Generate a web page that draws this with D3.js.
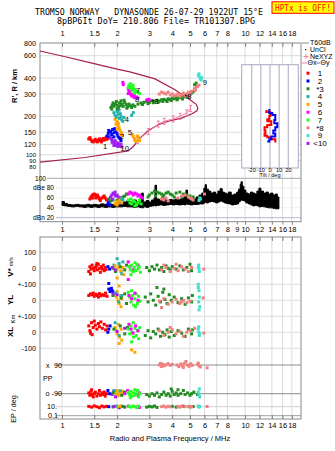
<!DOCTYPE html>
<html>
<head>
<meta charset="utf-8">
<script src="https://cdn.jsdelivr.net/npm/d3@7"></script>
<style>
body { margin: 0; background: #fff; }
svg text { font-family: "Liberation Sans", Arial, sans-serif; fill: #000; }
.mono { font-family: "DejaVu Sans Mono", monospace; white-space: pre; }
</style>
</head>
<body>
<div id="chart"></div>
<script>
// ---- data ----
const groupColors = ["#ff0000", "#0000ff", "#228b22", "#20b2aa", "#ffa500",
  "#ff00ff", "#22ff22", "#f08080", "#40e0d0", "#a020f0"];
const groupLabels = ["1", "2", "*3", "4", "5", "6", "7", "*8", "9", "<10"];

const topTicks = [1, 1.5, 2, 3, 4, 5, 6, 7, 8, 10, 12, 14, 16, 18];
const midTicks = [1, 1.5, 2, 3, 4, 5, 6, 7, 8, 9, 10, 12, 14, 16, 18];
const rangeTicks = [80, 90, 100, 120, 150, 200, 300, 400, 600, 800];

// model profile (MHz, km)
const profile = [[0.758, 653], [1.0, 597], [1.42, 529], [2.0, 471], [2.35, 447], [3.22, 394],
  [4.14, 324], [5.0, 270], [5.39, 250], [5.52, 233], [5.46, 221], [5.13, 210], [4.5, 194],
  [3.8, 183], [3.36, 172], [2.96, 155], [2.67, 135], [2.45, 116], [2.3, 107], [1.335, 95], [0.758, 87.5]];
// NeXYZ points
const nexyz = [[2.59, 129], [2.96, 152], [3.36, 174], [3.62, 183], [4.05, 191], [4.41, 200], [4.8, 213], [5.04, 231]];

// echoes: [group, MHz, km]
const rangePts = [
  [1,1.40,133],[1,1.42,136],[1,1.44,131],[1,1.46,127],[1,1.48,126],[1,1.50,129],[1,1.52,132],[1,1.54,128],
  [1,1.56,126],[1,1.58,130],[1,1.60,133],[1,1.62,129],[1,1.64,126],[1,1.66,131],[1,1.68,134],[1,1.70,130],
  [1,1.72,133],[1,1.74,136],[1,1.76,132],[1,1.78,135],
  [2,1.76,140],[2,1.79,147],[2,1.82,138],[2,1.84,152],[2,1.87,144],[2,1.89,158],[2,1.92,149],[2,1.94,160],
  [2,1.97,152],[2,2.00,146],[2,2.02,140],[2,2.05,136],[2,2.08,133],[2,1.92,138],[2,1.86,134],[2,2.10,129],[2,1.80,155],
  [10,1.84,136],[10,1.87,131],[10,1.90,127],[10,1.93,123],[10,1.96,120],[10,1.99,118],[10,2.02,116],[10,2.05,119],
  [10,2.08,117],[10,2.12,115],[10,1.95,129],[10,2.00,124],[10,2.04,122],[10,1.88,125],[10,1.92,118],[10,2.10,121],
  [5,1.95,190],[5,1.98,198],[5,2.00,182],[5,1.97,174],[5,2.02,168],[5,2.05,163],[5,2.00,158],[5,2.07,156],
  [5,2.10,150],[5,2.12,146],[5,2.14,141],[5,2.08,144],[5,2.03,176],[5,2.42,144],[5,2.45,139],[5,2.48,134],
  [5,2.50,129],[5,2.55,127],[5,2.60,131],[5,2.62,137],[5,2.65,129],[5,2.58,140],
  [4,1.92,214],[4,1.95,204],[4,1.98,198],[4,2.00,219],[4,2.03,208],[4,2.06,193],[4,2.10,199],[4,2.12,188],
  [4,2.15,183],[4,2.05,224],[4,2.08,210],[4,2.18,196],[4,2.40,204],[4,2.45,214],
  [3,1.85,235],[3,1.88,245],[3,1.90,255],[3,1.92,240],[3,1.95,250],[3,1.98,262],[3,2.00,245],[3,2.03,235],
  [3,2.06,255],[3,2.10,265],[3,2.13,250],[3,2.16,240],[3,2.20,258],[3,2.24,248],[3,2.28,238],[3,2.32,250],
  [3,2.36,242],[3,2.40,235],[3,1.87,228],[3,2.00,230],[3,2.08,242],[3,2.18,268],[3,2.26,232],[3,2.44,246],[3,2.50,240],
  [3,2.60,250],[3,2.70,255],[3,2.80,258],[3,2.90,262],[3,3.00,258],[3,3.10,265],[3,3.20,262],[3,3.30,268],
  [3,3.40,264],[3,3.50,270],[3,3.60,272],[3,3.70,268],[3,3.80,275],[3,3.90,271],[3,4.00,278],[3,4.10,275],
  [3,4.20,280],[3,4.30,277],[3,4.40,284],[3,4.50,281],[3,4.60,288],[3,4.70,285],[3,4.80,292],[3,4.90,295],
  [3,5.00,300],[3,5.10,306],[3,5.20,312],[3,5.30,355],[3,5.40,365],[3,2.75,248],[3,2.95,252],[3,3.15,256],
  [3,3.35,258],[3,3.55,262],[3,3.75,262],[3,3.95,266],[3,4.25,270],[3,4.55,274],[3,4.85,282],
  [6,2.30,330],[6,2.32,315],[6,2.35,305],[6,2.38,298],[6,2.40,290],[6,2.42,296],[6,2.45,285],[6,2.50,280],
  [6,2.55,284],[6,2.60,279],[6,2.35,322],[6,2.30,302],[6,2.15,370],[6,2.16,355],[6,2.90,268],[6,2.95,272],
  [6,3.00,270],[6,2.48,292],
  [7,2.32,350],[7,2.35,340],[7,2.38,330],[7,2.40,345],[7,2.42,320],[7,2.45,335],[7,2.50,325],[7,2.55,315],
  [7,2.60,310],[7,2.65,302],[7,2.36,362],[7,2.48,306],[7,2.44,352],[7,2.30,338],
  [8,3.40,300],[8,3.50,310],[8,3.60,305],[8,3.70,300],[8,3.80,310],[8,3.90,295],[8,4.00,300],[8,4.10,290],
  [8,4.20,295],[8,4.30,300],[8,4.40,288],[8,4.50,295],[8,4.60,305],[8,4.70,290],[8,4.80,300],[8,4.90,310],
  [8,5.00,298],[8,5.10,315],[8,5.30,330],[8,5.40,338],[8,5.50,345],[8,5.60,352],[8,5.35,320],[8,4.95,285],
  [9,5.55,420],[9,5.60,432],[9,5.65,410],[9,5.70,396],[9,5.75,386],[9,5.80,402]
];
const rangeLabels = [["1",1.72,117],["2",2.13,139],["10",2.2,113],["5",2.35,150],["4",2.26,190],
  ["*3",3.22,264],["7",2.6,320],["8",2.57,271],["*8",4.87,288],["9",6.03,368]];

// tilt inset: [deg, km]
const tiltX = [[-4,225],[0.3,217],[-0.8,201],[-3,190],[1.4,183],[-3,171],[-6,164],[-5,155],[-6,147],[-3,141],[1.4,137],[5.8,132],[7,127]];
const tiltY = [[-0.8,229],[2.5,213],[5.8,205],[4.7,187],[8,177],[5.8,164],[3.6,155],[5.8,147],[1.4,139],[-0.8,132],[-3,127]];

// noise band: [MHz, low dB, high dB]
const noise = [[1.00,45,53],[1.03,44,49],[1.07,43,47],[1.12,42,46],[1.18,43,47],[1.24,42,46],[1.30,41,46],
  [1.36,42,47],[1.42,41,46],[1.48,42,47],[1.55,41,46],[1.62,42,48],[1.70,41,47],[1.78,42,48],[1.86,41,47],
  [1.95,42,49],[2.05,42,50],[2.15,43,52],[2.25,42,54],[2.35,42,52],[2.45,41,56],[2.55,42,53],[2.65,41,58],
  [2.72,40,70],[2.78,42,52],[2.88,41,55],[2.98,43,52],[3.08,44,56],[3.18,45,60],[3.22,44,86],[3.28,45,58],
  [3.4,46,56],[3.55,45,58],[3.7,46,55],[3.85,47,57],[4.0,46,56],[4.15,47,58],[4.3,46,57],[4.5,47,60],
  [4.65,46,64],[4.75,48,76],[4.85,47,62],[5.0,46,60],[5.2,47,58],[5.4,47,62],[5.6,48,66],[5.8,48,70],
  [5.95,50,80],[6.05,52,87],[6.15,50,78],[6.3,52,74],[6.5,53,70],[6.7,52,72],[6.9,50,68],[7.1,52,74],
  [7.3,54,79],[7.5,52,72],[7.7,50,70],[7.9,49,68],[8.1,48,72],[8.4,46,66],[8.7,47,68],[9.0,48,72],
  [9.2,52,78],[9.4,55,88],[9.5,56,93],[9.65,55,84],[9.85,54,76],[10.1,50,70],[10.4,48,68],[10.7,46,72],
  [11.0,44,70],[11.3,45,68],[11.6,44,74],[11.9,42,80],[12.2,43,74],[12.6,42,70],[13.0,41,72],[13.4,40,68],
  [13.8,40,70],[14.2,39,66],[14.6,38,68],[15.0,38,62],[15.3,38,56]];

// echo amplitude: [group, MHz, dB]
const ampPts = [
  [1,1.42,58],[1,1.44,62],[1,1.46,65],[1,1.48,67],[1,1.50,68],[1,1.52,66],[1,1.54,64],[1,1.56,66],[1,1.58,62],
  [1,1.60,58],[1,1.62,55],[1,1.65,60],[1,1.68,62],[1,1.70,64],[1,1.72,60],[1,1.75,56],[1,1.47,60],[1,1.53,60],
  [2,1.78,48],[2,1.80,52],[2,1.82,46],[2,2.02,50],[2,2.05,48],
  [3,1.80,58],[3,1.85,54],[3,1.90,56],[3,2.00,55],[3,2.10,60],[3,2.15,62],[3,2.20,64],[3,2.25,68],
  [10,1.84,62],[10,1.87,66],[10,1.90,70],[10,1.93,68],[10,1.96,64],[10,2.00,66],[10,2.03,62],[10,2.06,60],[10,1.88,58],[10,1.95,72],
  [5,1.95,48],[5,1.98,52],[5,2.00,46],[5,2.03,50],[5,2.06,55],[5,2.10,58],[5,2.12,50],
  [4,2.12,58],[4,2.15,56],
  [6,2.30,68],[6,2.35,72],[6,2.40,70],[6,2.45,66],[6,2.50,70],[6,2.55,68],[6,2.60,64],[6,2.65,66],[6,2.70,62],[6,2.75,60],
  [7,2.30,56],[7,2.35,50],[7,2.40,48],[7,2.45,54],[7,2.50,52],[7,2.55,46],[7,2.60,50],[7,2.65,55],[7,2.38,58],[7,2.50,44],[7,2.70,48],
  [3,2.95,62],[3,3.00,66],[3,3.10,70],[3,3.20,74],[3,3.30,72],[3,3.40,70],[3,3.50,68],[3,3.60,66],[3,3.70,70],
  [3,3.80,72],[3,3.90,68],[3,4.00,66],[3,4.20,70],[3,4.40,72],[3,4.60,68],[3,4.80,66],[3,5.00,64],[3,5.20,62],
  [3,3.25,64],[3,3.55,62],[3,4.10,62],[3,4.50,62],
  [8,3.50,58],[8,3.60,56],[8,3.70,60],[8,3.80,54],[8,4.30,60],[8,4.50,64],[8,4.70,66],[8,4.90,62],[8,5.00,60],
  [8,5.10,58],[8,5.20,56],[8,6.00,68],
  [9,5.60,55],[9,5.65,60],[9,5.70,58]
];

// V* (m/s): [group, MHz, value]
const vstarPts = [
  [1,1.40,-20],[1,1.42,10],[1,1.44,-5],[1,1.46,20],[1,1.48,0],[1,1.50,-15],[1,1.52,5],[1,1.54,15],[1,1.56,-10],
  [1,1.58,25],[1,1.60,0],[1,1.62,-25],[1,1.64,10],[1,1.66,-5],[1,1.68,20],[1,1.70,-15],[1,1.72,5],[1,1.74,-8],
  [1,1.43,-35],[1,1.55,30],
  [2,1.78,10],[2,1.82,-5],[2,1.80,-95],
  [4,1.92,20],[4,1.98,-10],[4,2.05,30],[4,2.10,-20],[4,2.15,40],[4,2.00,60],[4,2.12,-35],
  [5,1.95,15],[5,2.00,-5],[5,2.05,10],[5,2.10,-15],[5,2.15,5],[5,2.00,-60],[5,2.05,-110],[5,2.18,-40],
  [3,1.90,0],[3,1.96,-20],[3,2.08,10],[3,2.20,-10],[3,2.25,20],
  [10,1.88,5],[10,1.95,-10],
  [6,2.30,40],[6,2.35,10],[6,2.45,-10],[6,2.60,20],[6,2.30,-70],
  [7,2.32,10],[7,2.36,-10],[7,2.40,20],[7,2.44,-20],[7,2.48,5],[7,2.52,-15],[7,2.56,25],[7,2.60,-5],
  [7,2.64,10],[7,2.68,-25],[7,2.38,-40],[7,2.50,35],
  [3,2.90,5],[3,3.00,-15],[3,3.10,10],[3,3.20,-5],[3,3.30,20],[3,3.40,-10],[3,3.50,5],[3,3.60,-20],[3,3.70,15],
  [3,3.80,0],[3,3.90,-10],[3,4.00,10],[3,4.20,-5],[3,4.40,15],[3,4.60,-10],[3,4.80,5],[3,5.00,25],[3,5.10,-15],
  [8,3.50,-10],[8,3.70,5],[8,3.90,-20],[8,4.10,0],[8,4.30,-15],[8,4.50,10],[8,4.70,-5],[8,4.90,-20],[8,5.10,5],
  [8,3.60,20],[8,5.95,-5],[8,4.20,25],
  [9,5.55,10],[9,5.60,-5],[9,5.62,-20],[9,5.58,20]
];
// YL (km)
const ylPts = [
  [1,1.40,30],[1,1.43,40],[1,1.46,35],[1,1.50,25],[1,1.53,38],[1,1.56,30],[1,1.60,42],[1,1.63,28],[1,1.66,35],
  [1,1.70,30],[1,1.73,45],[1,1.76,25],[1,1.48,45],[1,1.58,20],
  [2,1.80,70],[2,1.83,55],[2,1.86,75],[2,1.90,50],[2,1.88,60],
  [5,1.95,40],[5,1.98,20],[5,2.02,0],[5,2.05,-20],[5,2.08,30],[5,2.10,-40],[5,2.12,10],[5,2.00,55],
  [4,1.96,45],[4,2.04,-10],[4,2.12,30],
  [3,1.90,30],[3,2.10,15],[3,2.20,40],[3,2.25,-20],
  [10,1.90,40],[10,2.00,35],
  [7,2.30,50],[7,2.34,20],[7,2.38,-10],[7,2.42,30],[7,2.46,-30],[7,2.50,10],[7,2.54,40],[7,2.58,-20],
  [7,2.62,25],[7,2.66,-5],[7,2.40,60],[7,2.52,-40],
  [6,2.32,30],[6,2.40,10],[6,2.50,45],[6,2.60,0],
  [3,2.85,20],[3,2.95,-10],[3,3.05,40],[3,3.15,0],[3,3.25,-30],[3,3.35,25],[3,3.45,-10],[3,3.55,50],[3,3.65,5],
  [3,3.75,-20],[3,3.85,35],[3,3.95,0],[3,4.10,20],[3,4.30,-15],[3,4.50,10],[3,4.70,-25],[3,4.90,15],
  [3,5.10,-10],[3,5.15,30],[3,3.30,80],[3,3.60,70],
  [8,3.40,-5],[8,3.60,10],[8,3.80,-25],[8,4.00,-10],[8,4.20,5],[8,4.40,-20],[8,4.60,0],[8,4.80,-15],
  [8,5.00,-5],[8,3.50,-45],[8,4.50,-10],[8,5.90,15],
  [9,5.55,100],[9,5.60,60],[9,5.62,20],[9,5.58,-10],[9,5.65,-40],[9,5.60,-60],[9,5.55,80]
];
// XL (km)
const xlPts = [
  [1,1.40,40],[1,1.42,10],[1,1.45,60],[1,1.48,30],[1,1.50,70],[1,1.52,45],[1,1.55,20],[1,1.58,55],[1,1.60,35],
  [1,1.63,65],[1,1.66,25],[1,1.70,50],[1,1.73,15],[1,1.76,40],[1,1.43,-5],[1,1.46,-15],
  [2,1.80,20],[2,1.83,40],[2,1.78,0],
  [5,1.95,30],[5,1.98,10],[5,2.00,-10],[5,2.03,50],[5,2.06,-30],[5,2.10,20],[5,2.12,-50],[5,2.05,-70],
  [5,2.40,-110],[5,2.50,-125],
  [4,1.95,60],[4,2.05,-20],
  [3,1.92,20],[3,2.08,40],[3,2.20,-10],[3,2.28,30],
  [7,2.30,20],[7,2.34,-10],[7,2.38,40],[7,2.42,0],[7,2.46,-30],[7,2.50,25],[7,2.54,-20],[7,2.58,10],
  [7,2.62,-40],[7,2.66,30],[7,2.40,-60],[7,2.45,60],
  [6,2.32,50],[6,2.38,20],[6,2.44,-5],[6,2.52,40],[6,2.60,10],
  [10,2.00,5],[10,2.20,25],
  [3,2.85,-20],[3,2.95,10],[3,3.05,-35],[3,3.15,5],[3,3.25,-10],[3,3.35,20],[3,3.45,-25],[3,3.55,0],
  [3,3.65,-15],[3,3.75,15],[3,3.85,-30],[3,3.95,5],[3,4.10,-20],[3,4.30,10],[3,4.50,-5],[3,4.70,-25],
  [3,4.90,20],[3,5.10,-10],[3,5.15,15],
  [8,3.40,10],[8,3.60,-20],[8,3.80,0],[8,4.00,15],[8,4.20,-10],[8,4.40,5],[8,4.60,-25],[8,4.80,0],
  [8,5.00,10],[8,5.30,25],[8,3.90,30],[8,5.95,-5],
  [9,5.55,20],[9,5.60,0],[9,5.62,-20],[9,5.58,35],[9,5.65,-10]
];
// polarization PP (deg)
const ppPts = [
  [8,3.40,90],[8,3.45,100],[8,3.50,80],[8,3.55,95],[8,3.62,85],[8,3.70,92],[8,3.80,98],[8,3.90,88],[8,4.00,94],
  [8,4.25,90],[8,4.35,80],[8,4.45,96],[8,4.55,85],[8,4.65,100],[8,4.75,112],[8,4.85,90],[8,4.95,82],[8,5.05,98],
  [8,5.15,88],[8,4.60,75],[8,5.50,95],[8,5.60,85],[8,5.70,78],[8,5.55,102],[8,6.20,72],
  [1,1.40,-85],[1,1.42,-100],[1,1.44,-75],[1,1.46,-95],[1,1.48,-110],[1,1.50,-90],[1,1.52,-80],[1,1.55,-105],
  [1,1.58,-90],[1,1.60,-70],[1,1.62,-100],[1,1.65,-85],[1,1.68,-95],[1,1.70,-80],[1,1.72,-105],[1,1.75,-90],[1,1.45,-65],
  [2,1.78,-70],[2,1.82,-90],[2,1.92,-75],
  [5,1.95,-80],[5,1.98,-95],[5,2.00,-105],[5,2.03,-85],[5,2.06,-100],[5,2.10,-90],[5,2.14,-75],[5,2.00,-70],
  [4,1.93,-70],[4,2.08,-72],
  [10,1.88,-95],[10,1.96,-110],
  [3,1.90,-85],[3,2.12,-100],[3,2.20,-80],
  [6,2.20,-90],[6,2.28,-70],[6,2.60,-100],[6,2.65,-85],
  [7,2.30,-80],[7,2.34,-95],[7,2.38,-75],[7,2.42,-105],[7,2.46,-85],[7,2.50,-100],[7,2.54,-90],[7,2.58,-70],
  [7,2.62,-110],[7,2.66,-90],[7,2.36,-115],[7,2.50,-65],
  [3,2.90,-95],[3,3.00,-105],[3,3.10,-90],[3,3.20,-100],[3,3.30,-85],[3,3.40,-110],[3,3.50,-95],[3,3.60,-80],
  [3,3.70,-100],[3,3.80,-90],[3,3.90,-105],[3,4.00,-75],[3,4.10,-95],[3,4.20,-85],[3,4.30,-100],[3,4.45,-90],
  [3,4.60,-70],[3,4.70,-95],[3,4.85,-85],[3,5.00,-100],[3,5.10,-90],[3,5.25,-80],[3,3.95,-60],[3,4.30,-65],[3,5.50,-95],
  [9,5.60,-95],[9,5.65,-110],[9,5.55,-80],[9,5.62,-60]
];
// EP (deg)
const epPts = [
  [1,1.40,12],[1,1.45,8],[1,1.50,15],[1,1.55,10],[1,1.60,6],[1,1.65,14],[1,1.70,9],[1,1.75,12],
  [2,1.80,10],[2,2.05,6],[5,1.96,12],[5,2.02,8],[5,2.08,15],[5,2.12,10],[4,1.98,14],
  [3,1.90,9],[3,2.15,12],[3,2.20,8],[10,1.92,11],[6,2.30,14],[6,2.60,10],[6,2.65,7],
  [7,2.32,12],[7,2.38,8],[7,2.44,15],[7,2.50,10],[7,2.56,6],[7,2.62,13],
  [3,2.90,8],[3,3.00,12],[3,3.10,9],[3,3.20,14],[3,3.30,7],[3,4.00,12],[3,4.20,8],[3,4.60,13],[3,5.00,9],[3,5.20,11],
  [8,3.50,10],[8,3.60,14],[8,3.70,8],[8,3.80,12],[8,3.90,9],[8,4.30,12],[8,4.40,8],[8,4.50,13],[8,4.70,10],
  [8,4.90,12],[8,5.10,9],[8,6.20,11],
  [9,5.55,14],[9,5.60,8],[9,5.65,11]
];

// ---- drawing ----
const svg = d3.select("#chart").append("svg")
  .attr("width", 335)
  .attr("height", 451);

const x = d3.scaleLog().domain([0.758, 20.2]).range([40, 301]);
const yR = d3.scaleLog().domain([80, 800]).range([167, 39.8]);
const yDb = d3.scaleLinear().domain([20, 100]).range([217.7, 178.3]);
const yV = d3.scaleLinear().domain([-100, 100]).range([284.3, 252.3]);
const yYL = d3.scaleLinear().domain([-100, 100]).range([316.3, 284.3]);
const yXL = d3.scaleLinear().domain([-100, 100]).range([348.3, 316.3]);
const yPP = d3.scaleLinear().domain([-90, 90]).range([393.7, 365]);
const yEP = d3.scaleLog().domain([0.1, 10]).range([415.7, 406.7]);
const xTilt = d3.scaleLinear().domain([-31, 31]).range([241.7, 298.3]);

const gridCol = "#dcdcdc";

// vertical grid lines in both panels
[[43, 221.7], [237, 419]].forEach(([t, b]) => {
  svg.append("g").selectAll("line").data(topTicks).join("line")
    .attr("x1", d => x(d)).attr("x2", d => x(d))
    .attr("y1", t).attr("y2", b)
    .attr("stroke", gridCol).attr("stroke-width", 1);
});

// height grid
svg.append("g").selectAll("line").data(rangeTicks.slice(1, -1)).join("line")
  .attr("x1", 40).attr("x2", 301)
  .attr("y1", d => yR(d)).attr("y2", d => yR(d))
  .attr("stroke", gridCol);

// dB grid
[[100, "#a8a8a8", 47], [80, "#ececec", 56], [60, "#ececec", 56], [40, "#ececec", 56], [20, "#b4b4dc", 56]].forEach(([v, c, x0]) => {
  svg.append("line").attr("x1", x0).attr("x2", 301)
    .attr("y1", yDb(v)).attr("y2", yDb(v)).attr("stroke", c);
});

// bottom panel grid
[yV(100), yV(0), yV(-100), yYL(0), yYL(-100), yXL(0), yXL(-100)].forEach(v => {
  svg.append("line").attr("x1", 40).attr("x2", 301).attr("y1", v).attr("y2", v).attr("stroke", gridCol);
});
[[yPP(90), "#8c8c8c"], [yPP(-90), "#8c8c8c"], [yEP(10), "#cfcfcf"], [yEP(0.1), "#a0a0a0"]].forEach(([v, c]) => {
  svg.append("line").attr("x1", 56).attr("x2", 301).attr("y1", v).attr("y2", v).attr("stroke", c);
});

// frames
svg.append("rect").attr("x", 40).attr("y", 43).attr("width", 261).attr("height", 178.7)
  .attr("fill", "none").attr("stroke", "#8a8a8a");
svg.append("rect").attr("x", 40).attr("y", 237).attr("width", 261).attr("height", 182)
  .attr("fill", "none").attr("stroke", "#8a8a8a");

// axes
function styleAxis(g) {
  g.select(".domain").remove();
  g.selectAll(".tick line").attr("stroke", "#808080");
  g.selectAll("text").attr("font-size", 7.5).attr("font-family", "Liberation Sans, Arial, sans-serif");
}
const fmt = d => String(d);
svg.append("g").attr("transform", "translate(0,43)")
  .call(d3.axisTop(x).tickValues(topTicks).tickFormat(fmt).tickSize(-4).tickPadding(7))
  .call(styleAxis);
svg.append("g").attr("transform", "translate(0,221.7)")
  .call(d3.axisBottom(x).tickValues(midTicks).tickFormat(fmt).tickSize(3).tickPadding(1.6))
  .call(styleAxis);
svg.append("g").attr("transform", "translate(0,237)")
  .call(d3.axisTop(x).tickValues(topTicks).tickFormat("").tickSize(-4))
  .call(styleAxis);
svg.append("g").attr("transform", "translate(0,419)")
  .call(d3.axisBottom(x).tickValues(topTicks).tickFormat(fmt).tickSize(-4).tickPadding(3.3))
  .call(styleAxis);

// left labels
svg.append("g").selectAll("text").data(rangeTicks).join("text")
  .attr("x", 36).attr("y", d => d === 800 ? 43 : yR(d)).attr("dy", "0.35em")
  .attr("text-anchor", "end").attr("font-size", d => d <= 100 ? 6 : 7.2).text(d => d);

const dbLabels = [[100, "100", 46], [80, "dBe 80", 54], [60, "60", 54], [40, "40", 54], [20, "dBn 20", 54]];
svg.append("g").selectAll("text").data(dbLabels).join("text")
  .attr("x", d => d[2]).attr("y", d => yDb(d[0])).attr("dy", "0.35em")
  .attr("text-anchor", "end").attr("font-size", 6.6).text(d => d[1]);

const vLabels = [[yV(100), "100"], [yV(0), "0"], [yV(-100), "+-100"], [yYL(0), "0"],
  [yYL(-100), "+-100"], [yXL(0), "0"], [yXL(-100), "-100"]];
svg.append("g").selectAll("text").data(vLabels).join("text")
  .attr("x", 36).attr("y", d => d[0]).attr("dy", "0.35em")
  .attr("text-anchor", "end").attr("font-size", 7.2).text(d => d[1]);

function inText(tx, ty, t, anchor, size) {
  svg.append("text").attr("x", tx).attr("y", ty).attr("dy", "0.35em")
    .attr("text-anchor", anchor || "start").attr("font-size", size || 7.2).text(t);
}
inText(46, yPP(90), "x");
inText(62, yPP(90), "90", "end");
inText(45.5, yPP(-90), "o");
inText(62, yPP(-90), "-90", "end");
inText(43, 378.3, "PP");
inText(47, yEP(10), "10.");
inText(48, yEP(0.1), "0.1");

function rotText(tx, ty, t, size, weight) {
  return svg.append("text").attr("transform", `translate(${tx},${ty}) rotate(-90)`)
    .attr("text-anchor", "middle").attr("font-size", size).attr("font-weight", weight || "normal").text(t);
}
rotText(17, 86, "R', R / km", 7.5, "bold");
const vs = svg.append("text").attr("transform", "translate(13,267) rotate(-90)")
  .attr("text-anchor", "middle").attr("font-weight", "bold").attr("font-size", 8);
vs.append("tspan").text("V*");
vs.append("tspan").attr("font-size", 5.5).attr("font-weight", "normal").attr("dx", 2).text("m/s");
rotText(13, 300, "YL", 8, "bold");
rotText(15, 319, "Km", 6, "normal");
rotText(13, 332, "XL", 8, "bold");
rotText(16, 409, "EP / deg", 7.2);

svg.append("text").attr("x", 170).attr("y", 440.5).attr("text-anchor", "middle")
  .attr("font-size", 7.5).text("Radio and Plasma Frequency / MHz");

// titles
svg.append("text").attr("class", "mono").attr("x", 35).attr("y", 15).attr("font-size", 8.4)
  .attr("textLength", 228).attr("lengthAdjust", "spacingAndGlyphs")
  .text("TROMSO NORWAY   DYNASONDE 26-07-29 1922UT 15\u00b0E");
svg.append("text").attr("class", "mono").attr("x", 57).attr("y", 23.5).attr("font-size", 8.4)
  .attr("textLength", 198).attr("lengthAdjust", "spacingAndGlyphs")
  .text("8pBP6It DoY= 210.806 File= TR101307.BPG");
svg.append("rect").attr("x", 272).attr("y", 1.8).attr("width", 62).attr("height", 11.5)
  .attr("fill", "#ffff00").attr("stroke", "#ff0000").attr("stroke-width", 1);
svg.append("text").attr("class", "mono").attr("x", 275).attr("y", 10.8).attr("font-size", 8.4)
  .attr("textLength", 56).attr("lengthAdjust", "spacingAndGlyphs")
  .style("fill", "#ff0000").text("HPTx is OFF!");

// noise band
svg.append("path").datum(noise)
  .attr("d", d3.area().x(d => x(d[0])).y0(d => yDb(d[1])).y1(d => yDb(d[2])).curve(d3.curveStepAfter))
  .attr("fill", "#000").attr("stroke", "#000").attr("stroke-width", 1);

// profile and NeXYZ
svg.append("path").datum(profile)
  .attr("d", d3.line().x(d => x(d[0])).y(d => yR(d[1])))
  .attr("fill", "none").attr("stroke", "#a8204a").attr("stroke-width", 1.2);
svg.append("path").datum(nexyz)
  .attr("d", d3.line().x(d => x(d[0])).y(d => yR(d[1])))
  .attr("fill", "none").attr("stroke", "#f080a0").attr("stroke-width", 1);
const marks = svg.append("g").selectAll("g").data(nexyz).join("g")
  .attr("transform", d => `translate(${x(d[0])},${yR(d[1])})`)
  .attr("stroke", "#f080a0").attr("stroke-width", 1);
marks.append("line").attr("x1", 0).attr("x2", 0).attr("y1", -3).attr("y2", 3);
marks.append("line").attr("x1", -1.5).attr("x2", 1.5).attr("y1", -3).attr("y2", -3);
marks.append("line").attr("x1", -1.5).attr("x2", 1.5).attr("y1", 3).attr("y2", 3);

// echo points
function dots(data, yScale) {
  svg.append("g").selectAll("rect").data(data).join("rect")
    .attr("x", d => x(d[1]) - 1.5)
    .attr("y", d => yScale(d[2]) - 1.5)
    .attr("width", 3).attr("height", 3)
    .attr("fill", d => groupColors[d[0] - 1]);
}
dots(rangePts, yR);
dots(ampPts, yDb);
dots(vstarPts, yV);
dots(ylPts, yYL);
dots(xlPts, yXL);
dots(ppPts, yPP);
dots(epPts, yEP);

svg.append("g").selectAll("text").data(rangeLabels).join("text")
  .attr("x", d => x(d[1])).attr("y", d => yR(d[2])).attr("dy", "0.35em")
  .attr("text-anchor", "middle").attr("font-size", 7.5)
  .attr("font-family", "Liberation Serif, serif").text(d => d[0]);

// tilt inset
svg.append("rect").attr("x", 241.7).attr("y", 64.7).attr("width", 56.6).attr("height", 103.3)
  .attr("fill", "#fff").attr("stroke", "#a8a8c0");
svg.append("g").selectAll("line").data([-20, -10, 0, 10, 20]).join("line")
  .attr("x1", d => xTilt(d)).attr("x2", d => xTilt(d)).attr("y1", 64.7).attr("y2", 168)
  .attr("stroke", "#a8a8c0");
svg.append("g").selectAll("text").data([-20, -10, 0, 10, 20]).join("text")
  .attr("x", d => xTilt(d)).attr("y", 170.5).attr("dy", "0.35em")
  .attr("text-anchor", "middle").attr("font-size", 5.5).text(d => d);
svg.append("text").attr("x", 270).attr("y", 175).attr("dy", "0.35em")
  .attr("text-anchor", "middle").attr("font-size", 5.5).text("Tilt / deg");
[[tiltX, "#ff0000"], [tiltY, "#0000ff"]].forEach(([arr, c]) => {
  svg.append("path").datum(arr)
    .attr("d", d3.line().x(d => xTilt(d[0])).y(d => yR(d[1])).curve(d3.curveStepBefore))
    .attr("fill", "none").attr("stroke", c).attr("stroke-width", 2);
});

// legend
const lg = svg.append("g").attr("font-size", 7);
lg.append("line").attr("x1", 302).attr("x2", 309).attr("y1", 43).attr("y2", 43).attr("stroke", "#909090");
lg.append("text").attr("x", 310).attr("y", 43).attr("dy", "0.35em").text("T60dB");
lg.append("rect").attr("x", 305).attr("y", 49).attr("width", 1.2).attr("height", 1.2).attr("fill", "#000");
lg.append("text").attr("x", 310).attr("y", 50).attr("dy", "0.35em").text("UnCl");
lg.append("line").attr("x1", 303.5).attr("x2", 308.5).attr("y1", 56.5).attr("y2", 56.5).attr("stroke", "#f080a0");
lg.append("line").attr("x1", 306).attr("x2", 306).attr("y1", 54).attr("y2", 59).attr("stroke", "#f080a0");
lg.append("text").attr("x", 310).attr("y", 56.5).attr("dy", "0.35em").text("NeXYZ");
lg.append("line").attr("x1", 302).attr("x2", 307).attr("y1", 63).attr("y2", 63).attr("stroke", "#f080a0");
lg.append("text").attr("x", 307.5).attr("y", 63).attr("dy", "0.35em").text("\u0398x");
lg.append("line").attr("x1", 316).attr("x2", 320).attr("y1", 63).attr("y2", 63).attr("stroke", "#6070e0");
lg.append("text").attr("x", 320.5).attr("y", 63).attr("dy", "0.35em").text("\u0398y");

const legendRows = lg.selectAll("g.row").data(groupLabels).join("g")
  .attr("class", "row")
  .attr("transform", (d, i) => `translate(0,${73.2 + i * 7.8})`);
legendRows.append("rect").attr("x", 306.5).attr("y", -1.5).attr("width", 3).attr("height", 3)
  .attr("fill", (d, i) => groupColors[i]);
legendRows.append("text").attr("x", 320).attr("dy", "0.35em").attr("text-anchor", "middle")
  .attr("font-size", 8).text(d => d);
</script>
</body>
</html>
